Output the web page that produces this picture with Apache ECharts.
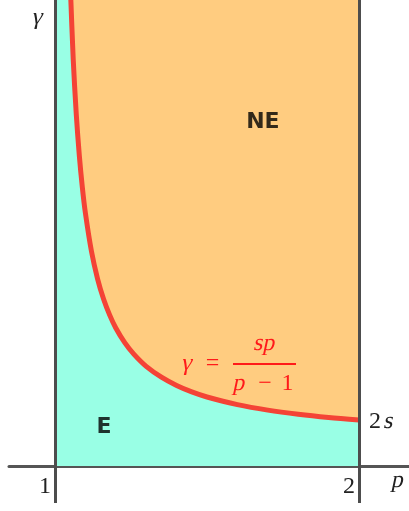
<!DOCTYPE html>
<html>
<head>
<meta charset="UTF-8">
<title>gamma p</title>
<script src="https://cdn.jsdelivr.net/npm/echarts@6/dist/echarts.min.js"></script>
<style>
  html, body { margin: 0; padding: 0; background: #fff; }
  #chart { width: 409px; height: 511px; }
</style>
</head>
<body>
<div id="chart"></div>
<script>
// curve gamma = s p / (p - 1), gamma given in units of s
var curveP = [1.05, 1.06, 1.07, 1.08, 1.09, 1.10, 1.12, 1.14, 1.16, 1.18, 1.20, 1.23, 1.26, 1.30, 1.35, 1.40, 1.45, 1.50, 1.60, 1.70, 1.80, 1.90, 2.00];
var curveG = [21.0, 17.67, 15.29, 13.5, 12.11, 11.0, 9.33, 8.14, 7.25, 6.56, 6.0, 5.35, 4.85, 4.33, 3.86, 3.5, 3.22, 3.0, 2.67, 2.43, 2.25, 2.11, 2.0];
var bandP = [1, 2];          // p range of the shaded band
var tickLabels = ['1', '2'];
var topG = 21;               // above the visible top

var pMin = 0.8487, pMax = 2.1645;
var gMin = -1.609, gMax = 20.26;

var curve = curveP.map(function (p, i) { return [p, curveG[i]]; });
var cyan = [[bandP[0], topG]].concat(curve);
var orange = bandP.map(function (p) { return [p, topG]; });

var math = 'Liberation Serif';
var red = '#ff1a1a';

// region names
var regions = [[1.684, 14.96, 'NE'], [1.161, 1.70, 'E']];

// math text: [x px, y px, text, italic, colour]
var mathText = [
  [38, 18, 'γ', true, '#222'],
  [398, 481, 'p', true, '#222'],
  [375, 422, '2', false, '#222'],
  [389, 422, 's', true, '#222'],
  [187.5, 363.5, 'γ', true, red],
  [212.5, 363.5, '=', false, red],
  [265, 344, 'sp', true, red],
  [239.5, 384, 'p', true, red],
  [265, 384, '−', false, red],
  [287.5, 384, '1', false, red]
];

var graphics = mathText.map(function (t) {
  return {
    type: 'text', x: t[0], y: t[1], z: 10, skewX: t[3] ? -0.21 : 0,
    style: {
      text: t[2], align: 'center', verticalAlign: 'middle',
      fontFamily: math, fontSize: 24, fill: t[4]
    }
  };
});
graphics.push({ type: 'line', z: 10, shape: { x1: 233, y1: 364, x2: 296, y2: 364 }, style: { stroke: red, lineWidth: 2 } });

var chart = echarts.init(document.getElementById('chart'));
chart.setOption({
  animation: false,
  grid: { left: 9, right: 0, top: 0, bottom: 8, outerBoundsMode: 'none' },
  xAxis: {
    type: 'value', min: pMin, max: pMax,
    axisLine: { onZero: true, lineStyle: { color: '#555', width: 3 } },
    axisTick: { show: false },
    splitLine: { show: false },
    axisLabel: {
      show: true,
      customValues: bandP,
      formatter: function (v) { return tickLabels[bandP.indexOf(v)]; },
      align: 'right', padding: [0, 4, 0, 0], margin: -28,
      fontFamily: math, fontSize: 24, color: '#222'
    }
  },
  yAxis: {
    type: 'value', min: gMin, max: gMax,
    axisLine: { show: false }, axisTick: { show: false },
    axisLabel: { show: false }, splitLine: { show: false }
  },
  series: [
    {
      type: 'line', data: orange, symbol: 'none', z: 1,
      lineStyle: { width: 0 },
      areaStyle: { color: '#ffcc80', opacity: 1 }
    },
    {
      type: 'line', data: cyan, symbol: 'none', z: 2, smooth: 0.3,
      lineStyle: { width: 0 },
      areaStyle: { color: '#99ffe5', opacity: 1 }
    },
    {
      type: 'line', data: curve, symbol: 'none', z: 4, smooth: 0.3,
      lineStyle: { color: '#f44336', width: 5 },
      markLine: {
        silent: true, symbol: 'none', label: { show: false },
        lineStyle: { color: '#4d4d4d', width: 3, type: 'solid' },
        data: bandP.map(function (p) { return { xAxis: p }; })
      }
    },
    {
      type: 'scatter', z: 10, symbolSize: 0, silent: true, clip: false,
      data: regions.map(function (r) { return { value: [r[0], r[1]], name: r[2] }; }),
      label: {
        show: true, position: 'inside', formatter: '{b}',
        fontFamily: 'DejaVu Sans', fontWeight: 'bold', fontSize: 22,
        color: '#000', textBorderWidth: 0
      }
    }
  ],
  graphic: graphics
});
</script>
</body>
</html>
